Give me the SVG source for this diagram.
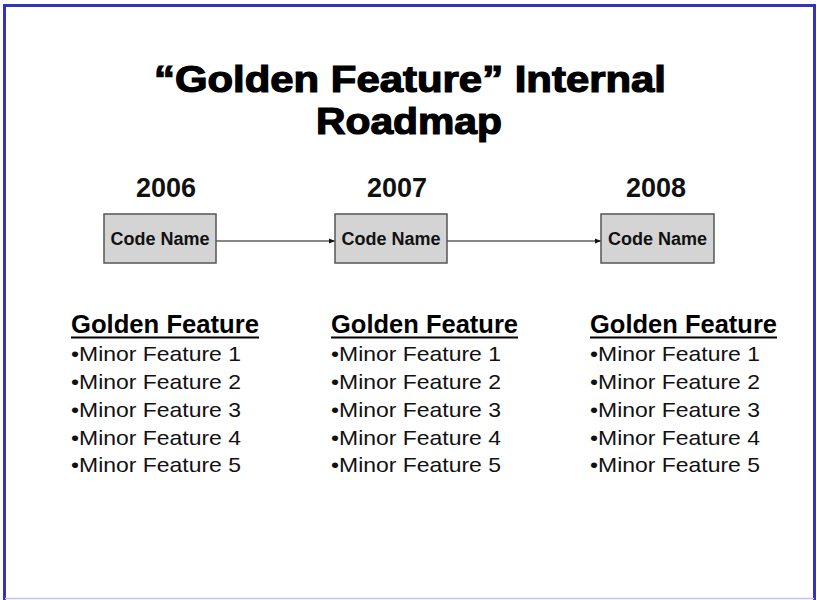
<svg xmlns="http://www.w3.org/2000/svg" width="817" height="600" viewBox="0 0 817 600">
<style>
.title{font-family:"Liberation Sans",Arial,sans-serif;font-weight:bold;font-size:36px;fill:#000;stroke:#000;stroke-width:1.2px;text-anchor:middle}
.year{font-family:"Liberation Sans",Arial,sans-serif;font-weight:bold;font-size:27px;fill:#111;text-anchor:middle}
.box{fill:#d4d4d4;stroke:#555;stroke-width:1.5}
.code{font-family:"Liberation Sans",Arial,sans-serif;font-weight:bold;font-size:18px;fill:#111;text-anchor:middle}
.head{font-family:"Liberation Sans",Arial,sans-serif;font-weight:bold;font-size:25px;fill:#000}
.ul{stroke:#000;stroke-width:2}
.item{font-family:"Liberation Sans",Arial,sans-serif;font-size:21px;fill:#111}
.conn{stroke:#111;stroke-width:1.2;fill:none;marker-end:url(#ah)}
</style>
<defs>
<marker id="ah" markerWidth="6" markerHeight="6" refX="6" refY="3" orient="auto" markerUnits="userSpaceOnUse">
<path d="M0,0.5 L6,3 L0,5.5 Z" fill="#111"/>
</marker>
</defs>
<rect x="0" y="0" width="817" height="600" fill="#fff"/>
<path d="M4.5,600 V5.5 H814.5 V600" fill="none" stroke="#3333bb" stroke-width="3"/>
<line x1="5" y1="598.5" x2="814" y2="598.5" stroke="#c4c4e6" stroke-width="1.5"/>

<g id="title">
<text class="title" x="410" y="92" textLength="512" lengthAdjust="spacingAndGlyphs">“Golden Feature” Internal</text>
<text class="title" x="409" y="134" textLength="186" lengthAdjust="spacingAndGlyphs">Roadmap</text>
</g>

<g id="connectors">
<line class="conn" x1="216" y1="241" x2="335" y2="241"/>
<line class="conn" x1="447" y1="241" x2="601" y2="241"/>
</g>

<g id="node-2006">
<text class="year" x="166" y="197">2006</text>
<rect class="box" x="104" y="214" width="112" height="49"/>
<text class="code" x="160" y="245">Code Name</text>
</g>
<g id="node-2007">
<text class="year" x="397" y="197">2007</text>
<rect class="box" x="335" y="214" width="112" height="49"/>
<text class="code" x="391" y="245">Code Name</text>
</g>
<g id="node-2008">
<text class="year" x="656" y="197">2008</text>
<rect class="box" x="601" y="214" width="113" height="49"/>
<text class="code" x="657.5" y="245">Code Name</text>
</g>

<g id="features-2006">
<text class="head" x="71" y="333" textLength="188" lengthAdjust="spacingAndGlyphs">Golden Feature</text>
<line class="ul" x1="71" y1="337.5" x2="259" y2="337.5"/>
<text class="item" x="71" y="361" textLength="170" lengthAdjust="spacingAndGlyphs">•Minor Feature 1</text>
<text class="item" x="71" y="389" textLength="170" lengthAdjust="spacingAndGlyphs">•Minor Feature 2</text>
<text class="item" x="71" y="417" textLength="170" lengthAdjust="spacingAndGlyphs">•Minor Feature 3</text>
<text class="item" x="71" y="445" textLength="170" lengthAdjust="spacingAndGlyphs">•Minor Feature 4</text>
<text class="item" x="71" y="472" textLength="170" lengthAdjust="spacingAndGlyphs">•Minor Feature 5</text>
</g>
<g id="features-2007">
<text class="head" x="331" y="333" textLength="187" lengthAdjust="spacingAndGlyphs">Golden Feature</text>
<line class="ul" x1="331" y1="337.5" x2="518" y2="337.5"/>
<text class="item" x="331" y="361" textLength="170" lengthAdjust="spacingAndGlyphs">•Minor Feature 1</text>
<text class="item" x="331" y="389" textLength="170" lengthAdjust="spacingAndGlyphs">•Minor Feature 2</text>
<text class="item" x="331" y="417" textLength="170" lengthAdjust="spacingAndGlyphs">•Minor Feature 3</text>
<text class="item" x="331" y="445" textLength="170" lengthAdjust="spacingAndGlyphs">•Minor Feature 4</text>
<text class="item" x="331" y="472" textLength="170" lengthAdjust="spacingAndGlyphs">•Minor Feature 5</text>
</g>
<g id="features-2008">
<text class="head" x="590" y="333" textLength="187" lengthAdjust="spacingAndGlyphs">Golden Feature</text>
<line class="ul" x1="590" y1="337.5" x2="777" y2="337.5"/>
<text class="item" x="590" y="361" textLength="170" lengthAdjust="spacingAndGlyphs">•Minor Feature 1</text>
<text class="item" x="590" y="389" textLength="170" lengthAdjust="spacingAndGlyphs">•Minor Feature 2</text>
<text class="item" x="590" y="417" textLength="170" lengthAdjust="spacingAndGlyphs">•Minor Feature 3</text>
<text class="item" x="590" y="445" textLength="170" lengthAdjust="spacingAndGlyphs">•Minor Feature 4</text>
<text class="item" x="590" y="472" textLength="170" lengthAdjust="spacingAndGlyphs">•Minor Feature 5</text>
</g>
</svg>
